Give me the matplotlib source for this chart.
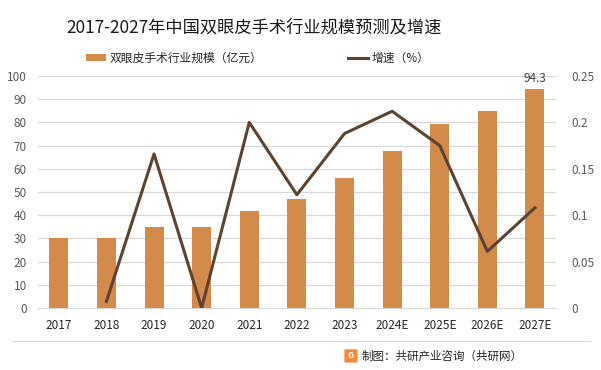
import matplotlib.pyplot as plt
from matplotlib.patches import FancyBboxPatch
import numpy as np

plt.rcParams['font.family'] = ['Noto Sans CJK SC', 'DejaVu Sans']

years = ['2017', '2018', '2019', '2020', '2021', '2022', '2023',
         '2024E', '2025E', '2026E', '2027E']
scale = [30, 30, 35, 35, 42, 47, 56, 67.5, 79.5, 84.8, 94.3]
growth = [np.nan, 0.007, 0.166, 0.0, 0.2, 0.122, 0.188, 0.212, 0.175, 0.061, 0.108]

bar_color = '#D38B4C'
line_color = '#5E4330'
tick_color = '#595959'

fig = plt.figure(figsize=(6.01, 3.70), dpi=100)
ax = fig.add_axes([0.063, 0.1676, 0.862, 0.627])
x = np.arange(len(years))

ax.bar(x, scale, width=0.4, color=bar_color, zorder=2, label='双眼皮手术行业规模（亿元）')
ax.set_ylim(0, 100)
ax.set_yticks(range(0, 101, 10))
ax.set_xlim(-0.44, 10.44)
ax.set_xticks(x)
ax.set_xticklabels(years)
ax.grid(axis='y', color='#D9D9D9', linewidth=0.9, zorder=0)
ax.tick_params(length=0, labelsize=8.5, colors=tick_color, pad=8)
ax.tick_params(axis='x', colors='#262626', pad=8)
for s in ax.spines.values():
    s.set_visible(False)
ax.spines['bottom'].set_visible(True)
ax.spines['bottom'].set_color('#D9D9D9')

ax.annotate('94.3', (x[-1], scale[-1]), xytext=(0, 3), textcoords='offset points',
            ha='center', va='bottom', fontsize=8.5, color='#404040')

ax2 = ax.twinx()
ax2.plot(x, growth, color=line_color, linewidth=2.2, zorder=3, label='增速（%）')
ax2.set_ylim(0, 0.25)
ax2.set_yticks([0, 0.05, 0.1, 0.15, 0.2, 0.25])
ax2.set_yticklabels(['0', '0.05', '0.1', '0.15', '0.2', '0.25'])
ax2.tick_params(length=0, labelsize=8.5, colors=tick_color, pad=11)
for s in ax2.spines.values():
    s.set_visible(False)

fig.text(0.423, 0.925, '2017-2027年中国双眼皮手术行业规模预测及增速',
         ha='center', va='center', fontsize=12.4, color='#1a1a1a')

h1, l1 = ax.get_legend_handles_labels()
h2, l2 = ax2.get_legend_handles_labels()
fig.legend(h1 + h2, l1 + l2, loc='center left', bbox_to_anchor=(0.125, 0.842),
           ncol=2, frameon=False, fontsize=8.5, handlelength=1.7, handleheight=0.5,
           columnspacing=7.3, handletextpad=0.3, labelcolor='#262626')

# bottom separator and source
fig.add_artist(plt.Line2D([0.02, 0.982], [0.078, 0.078], color='#D9D9D9', linewidth=0.8))
fig.add_artist(FancyBboxPatch((0.575, 0.022), 0.018, 0.032, boxstyle='round,pad=0.002',
                              transform=fig.transFigure, facecolor='#F08A3C', edgecolor='none'))
fig.text(0.584, 0.038, 'G', ha='center', va='center', fontsize=6, color='white', fontweight='bold')
fig.text(0.601, 0.038, '制图：共研产业咨询（共研网）', ha='left', va='center',
         fontsize=8.3, color='#262626')

fig.savefig('out.png', dpi=100)
